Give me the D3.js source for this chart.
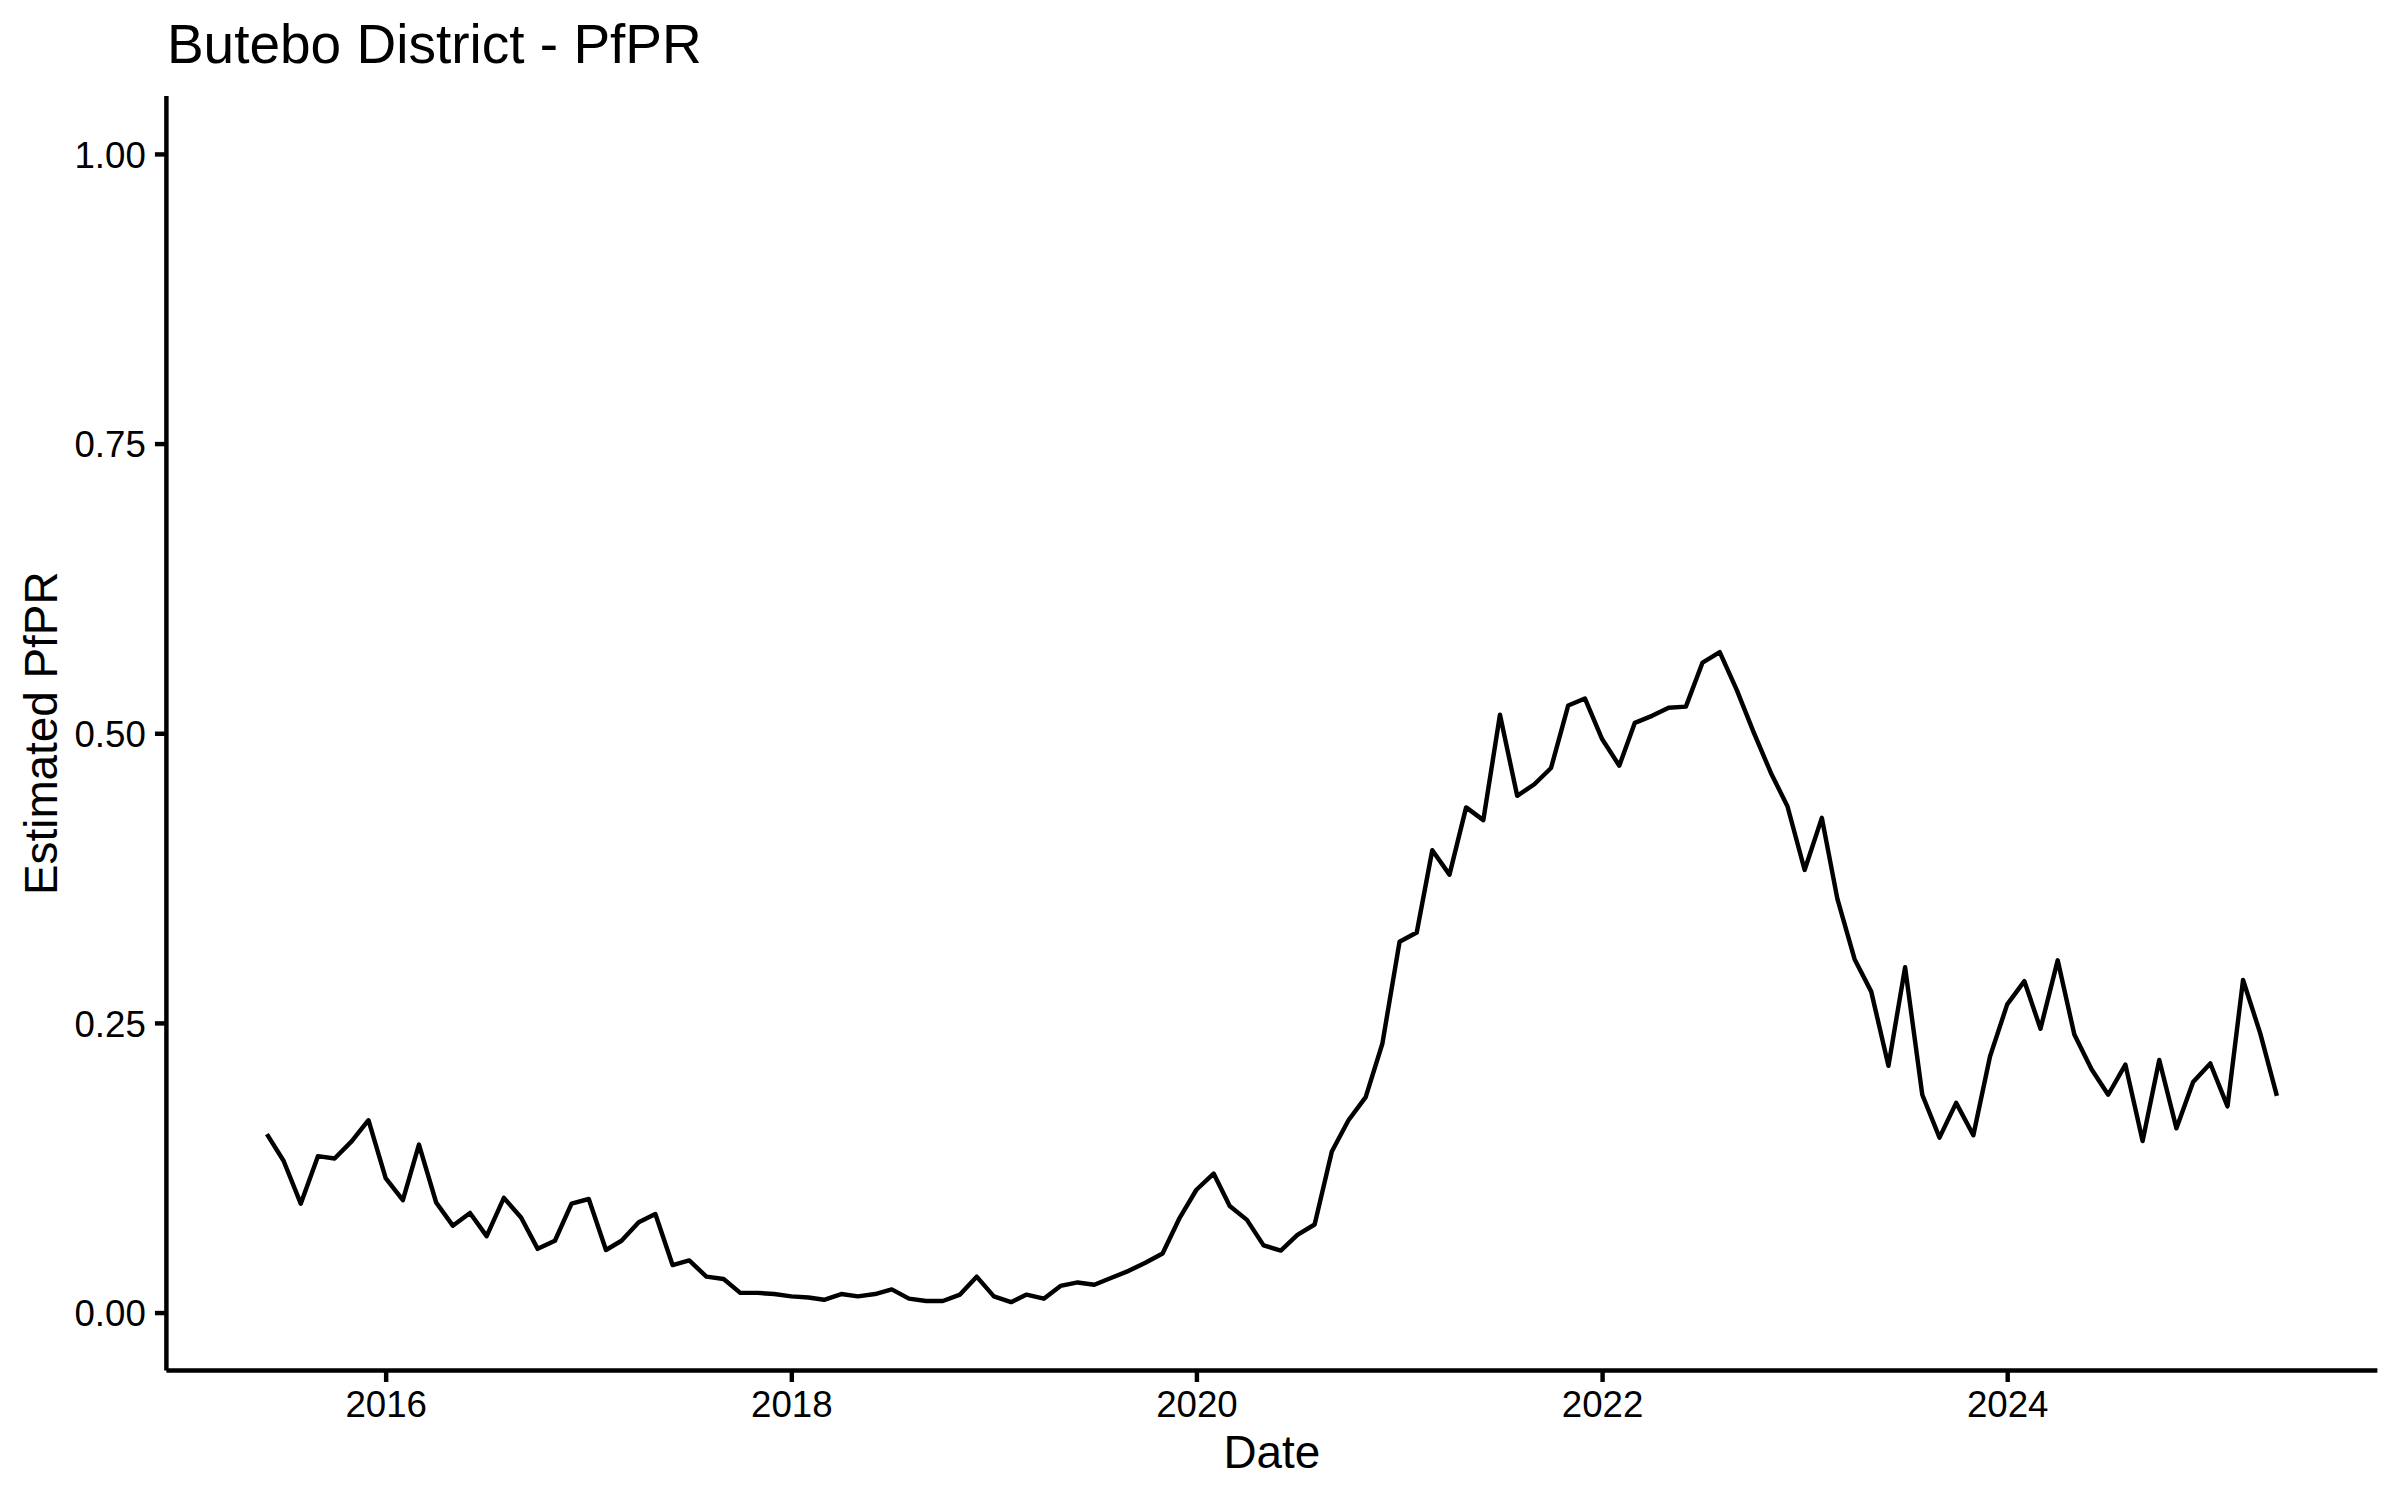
<!DOCTYPE html>
<html>
<head>
<meta charset="utf-8">
<script src="https://cdn.jsdelivr.net/npm/d3@7"></script>
<style>
  html, body { margin: 0; padding: 0; background: #ffffff; }
  svg { display: block; }
  text { font-family: "Liberation Sans", Arial, Helvetica, sans-serif; }
</style>
</head>
<body>
<script>
// ---------------- data ----------------
const chartTitle = "Butebo District - PfPR";
const xTitle = "Date";
const yTitle = "Estimated PfPR";

// monthly series, first month June 2015, last month May 2025
const firstMonth = "2015-06-01";
const lastMonth = "2025-05-01";

const pfpr = [
  0.154, 0.131, 0.094, 0.135, 0.133, 0.148, 0.166, 0.116, 0.097, 0.145,
  0.095, 0.075, 0.086, 0.066, 0.099, 0.082, 0.055, 0.062, 0.094, 0.098,
  0.054, 0.062, 0.078, 0.085, 0.041, 0.045, 0.031, 0.029, 0.017, 0.017,
  0.016, 0.014, 0.013, 0.011, 0.016, 0.014, 0.016, 0.020, 0.012, 0.010,
  0.010, 0.0155, 0.031, 0.014, 0.009, 0.0155, 0.012, 0.023, 0.026, 0.024,
  0.030, 0.036, 0.043, 0.051, 0.081, 0.106, 0.120, 0.092, 0.080, 0.058,
  0.0535, 0.067, 0.076, 0.139, 0.166, 0.186, 0.232, 0.320, 0.328, 0.399,
  0.378, 0.436, 0.425, 0.516, 0.446, 0.456, 0.470, 0.524, 0.530, 0.495,
  0.472, 0.509, 0.515, 0.522, 0.523, 0.561, 0.570, 0.537, 0.501, 0.466,
  0.437, 0.382, 0.427, 0.357, 0.305, 0.277, 0.213, 0.298, 0.188, 0.151,
  0.181, 0.153, 0.221, 0.266, 0.286, 0.245, 0.304, 0.240, 0.210, 0.188,
  0.214, 0.148, 0.218, 0.159, 0.199, 0.215, 0.178, 0.287, 0.241, 0.187
];

const yTicks = [0, 0.25, 0.5, 0.75, 1.0];
const xTickYears = ["2016", "2018", "2020", "2022", "2024"];

// ---------------- layout ----------------
const W = 2400, H = 1500;
const panel = { left: 166.4, right: 2377.4, top: 96, bottom: 1370.5 };
const lw = 4.45;          // ggplot linewidth 0.5 at 300 dpi
const tickLen = 11.46;    // 2.75pt
const tickPad = 9.17;     // 2.2pt
const tickFont = 36.67;   // 8.8pt
const axisTitleFont = 45.83; // 11pt
const titleFont = 55;     // 13.2pt

const parse = d3.utcParse("%Y-%m-%d");
const d0 = parse(firstMonth), d1 = parse(lastMonth);
const months = d3.utcMonth.range(d0, d3.utcMonth.offset(d1, 1));
const data = months.map((m, i) => ({ date: m, value: pfpr[i] }));

// ggplot default 5% expansion of the data range
const span = d1 - d0;
const x = d3.scaleUtc()
  .domain([new Date(+d0 - 0.05 * span), new Date(+d1 + 0.05 * span)])
  .range([panel.left, panel.right]);

const y = d3.scaleLinear()
  .domain([-0.05, 1.05])
  .range([panel.bottom, panel.top]);

const svg = d3.select("body").append("svg")
  .attr("width", W).attr("height", H)
  .attr("viewBox", `0 0 ${W} ${H}`);

svg.append("rect").attr("width", W).attr("height", H).attr("fill", "#ffffff");

// ---------------- line ----------------
const line = d3.line()
  .x(d => x(d.date))
  .y(d => y(d.value));

svg.append("path")
  .datum(data)
  .attr("fill", "none")
  .attr("stroke", "#000000")
  .attr("stroke-width", lw)
  .attr("stroke-linejoin", "round")
  .attr("stroke-linecap", "butt")
  .attr("d", line);

// ---------------- axes ----------------
const xAxis = d3.axisBottom(x)
  .tickValues(xTickYears.map(yy => parse(yy + "-01-01")))
  .tickFormat(d3.utcFormat("%Y"))
  .tickSize(tickLen)
  .tickSizeOuter(0)
  .tickPadding(tickPad);

const gx = svg.append("g")
  .attr("transform", `translate(0,${panel.bottom})`)
  .call(xAxis);

const yAxis = d3.axisLeft(y)
  .tickValues(yTicks)
  .tickFormat(d3.format(".2f"))
  .tickSize(tickLen)
  .tickSizeOuter(0)
  .tickPadding(tickPad);

const gy = svg.append("g")
  .attr("transform", `translate(${panel.left},0)`)
  .call(yAxis);

// style both axes like theme_classic
[gx, gy].forEach(g => {
  g.select(".domain").remove();
  g.selectAll(".tick line")
    .attr("stroke", "#000000")
    .attr("stroke-width", lw);
  g.selectAll(".tick text")
    .attr("fill", "#000000")
    .style("font-size", tickFont + "px")
    .style("font-family", '"Liberation Sans", Arial, Helvetica, sans-serif');
});
gy.selectAll(".tick text").attr("dy", "0.36em");

// axis lines drawn at the panel edges
svg.append("line")
  .attr("x1", panel.left).attr("x2", panel.right)
  .attr("y1", panel.bottom).attr("y2", panel.bottom)
  .attr("stroke", "#000000").attr("stroke-width", lw);
svg.append("line")
  .attr("x1", panel.left).attr("x2", panel.left)
  .attr("y1", panel.top).attr("y2", panel.bottom)
  .attr("stroke", "#000000").attr("stroke-width", lw);

// ---------------- titles ----------------
svg.append("text")
  .attr("x", panel.left + 0.5)
  .attr("y", 62.5)
  .attr("fill", "#000000")
  .style("font-size", titleFont + "px")
  .text(chartTitle);

svg.append("text")
  .attr("x", (panel.left + panel.right) / 2)
  .attr("y", 1467.5)
  .attr("text-anchor", "middle")
  .attr("fill", "#000000")
  .style("font-size", axisTitleFont + "px")
  .text(xTitle);

svg.append("text")
  .attr("transform", `translate(57,${(panel.top + panel.bottom) / 2}) rotate(-90)`)
  .attr("text-anchor", "middle")
  .attr("fill", "#000000")
  .style("font-size", axisTitleFont + "px")
  .text(yTitle);
</script>
</body>
</html>
